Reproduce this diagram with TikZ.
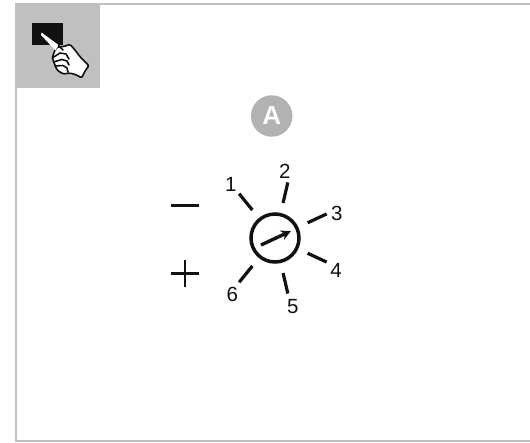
\documentclass[tikz,border=0pt]{standalone}
\usepackage{fontspec}
\setmainfont{Liberation Sans}
\usetikzlibrary{arrows.meta}
\definecolor{framegray}{HTML}{C0C0C0}
\definecolor{badgegray}{HTML}{B2B2B2}
\definecolor{inkblack}{HTML}{111111}

\begin{document}
\begin{tikzpicture}[
  x=1pt, y=-1pt,
  tick/.style={line width=3.2pt, inkblack},
  num/.style={font=\fontsize{20.5}{20.5}\selectfont, text=inkblack, inner sep=0pt},
  arr/.style={-{Stealth[length=10pt, width=10pt]}, line width=3.4pt, inkblack},
  handline/.style={line width=1.6pt, inkblack, line join=round, line cap=round}
]
  \useasboundingbox (0,0) rectangle (530,442);
  % frame
  \draw[framegray, line width=2.6pt] (530,4) -- (16,4) -- (16,441) -- (530,441);
  \fill[framegray] (15,3) rectangle (100,88);
  % hand icon
  \fill[inkblack] (32,23) rectangle (63,45);
  \draw[handline, fill=white, rounded corners=1.5pt] (54.3,51.7) -- (57,47) -- (64,46.5) -- (70,44.3) -- (75,50) -- (80,56.7)
    -- (89,65.7) -- (85,71) -- (81.7,78) -- (76.7,75) -- (70,73) -- (63,74) -- (57,70) -- (55,65)
    -- (52.3,58) -- cycle;
  \fill[white] (41.5,32.5) -- (58.5,45) -- (55.5,50.5) -- (41,35) -- cycle;
  \draw[handline] (58.5,45.5) -- (63,50) (52.3,58) -- (60,53) -- (66,54) -- (69,59)
    (53.5,62) -- (62,59.5) -- (67,61) -- (69,65) (55,66) -- (63,65.5) -- (67,68) -- (68,72);
  % badge
  \node[circle, fill=badgegray, minimum size=41.5pt, inner sep=0pt, text=white,
        font=\fontsize{26}{26}\selectfont\bfseries] (badge) at (271.7,116) {A};
  % dial
  \node[circle, draw=inkblack, line width=3.5pt, minimum size=48pt, inner sep=0pt] (dial) at (275,238) {};
  \coordinate (needletail) at (261,245);
  \coordinate (needletip) at (291,231);
  \draw[arr] (needletail) -- (needletip);
  % ticks
  \foreach \name/\ang/\lx/\ly in {1/129/230.7/184, 2/77/284.7/171.7, 3/25/336.7/213.3,
                                   4/-25/336/270.3, 5/-77/292.7/306.7, 6/-129/232.3/294.7} {
    \node[num] (n\name) at (\lx,\ly) {\name};
    \draw[tick] ([shift={(\ang:36pt)}]dial.center) -- ([shift={(\ang:57pt)}]dial.center);
  }
  % minus, plus
  \coordinate (minusl) at (171,205.3);
  \coordinate (minusr) at (199,205.3);
  \draw[tick, line width=3.4pt] (minusl) -- (minusr);
  \coordinate (plusl) at (171,273.7);
  \coordinate (plusr) at (199,273.7);
  \coordinate (plust) at (185,260);
  \coordinate (plusb) at (185,287);
  \draw[tick, line width=2.6pt] (plusl) -- (plusr);
  \draw[tick, line width=2.6pt] (plust) -- (plusb);
\end{tikzpicture}
\end{document}
